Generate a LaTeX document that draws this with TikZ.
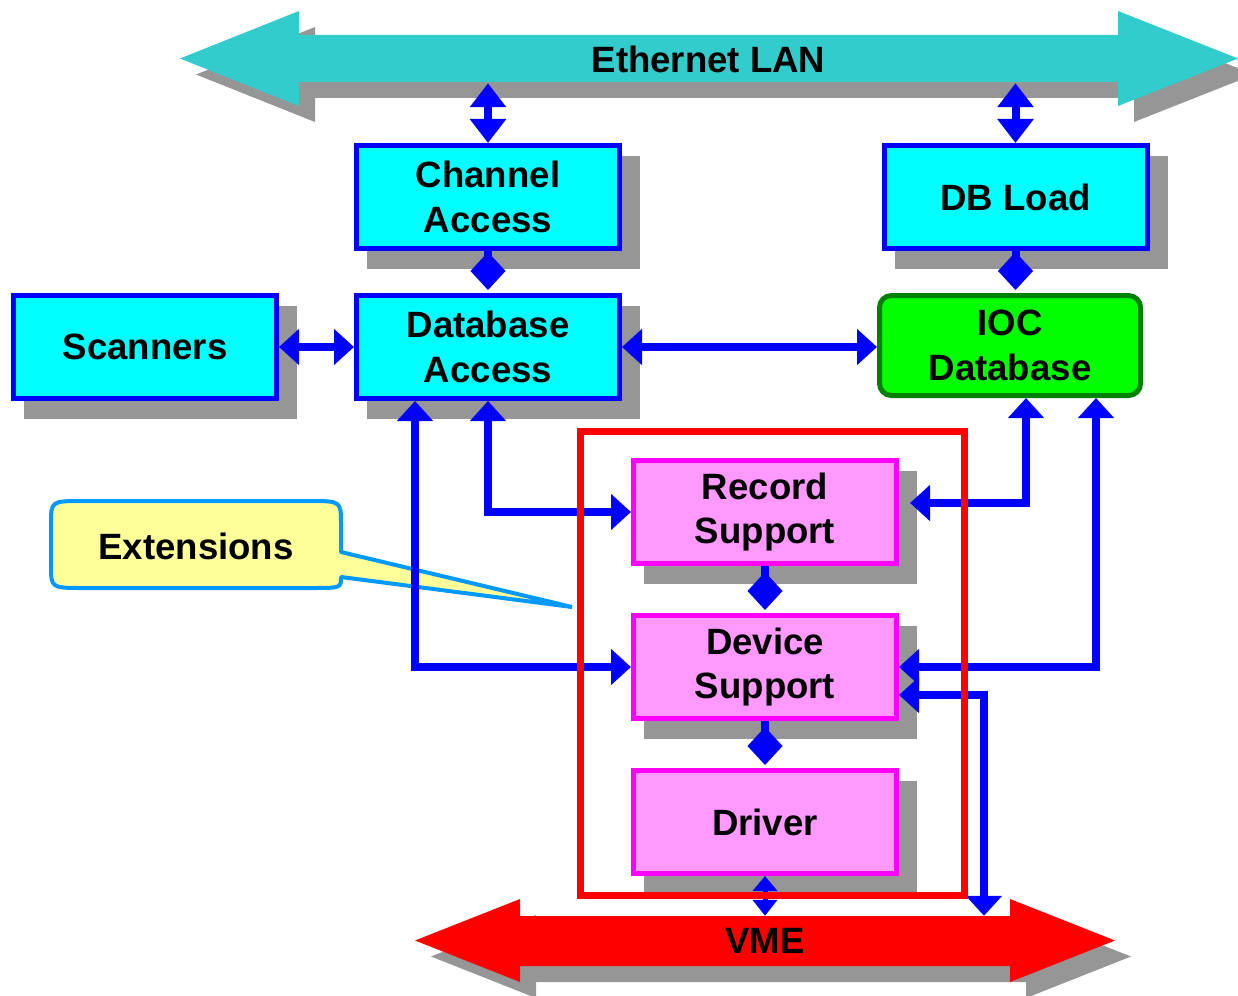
\documentclass[tikz,border=0pt]{standalone}
\usepackage{fontspec}
\setmainfont{Liberation Sans}
\usetikzlibrary{arrows.meta}

\definecolor{lancyan}{HTML}{33CCCC}
\definecolor{boxcyan}{HTML}{00FFFF}
\definecolor{linkblue}{HTML}{0000FF}
\definecolor{iocgreen}{HTML}{00FF00}
\definecolor{iocedge}{HTML}{008000}
\definecolor{pinkfill}{HTML}{FF99FF}
\definecolor{pinkedge}{HTML}{FF00FF}
\definecolor{shadowgray}{HTML}{969696}
\definecolor{notefill}{HTML}{FFFF99}
\definecolor{noteedge}{HTML}{0099FF}
\definecolor{busred}{HTML}{FF0000}

\pgfdeclarelayer{shadowlayer}
\pgfdeclarelayer{toplayer}
\pgfsetlayers{shadowlayer,main,toplayer}

\tikzset{
  every node/.style={font=\bfseries\fontsize{36.6}{44.5}\selectfont, align=center, inner sep=0pt},
  block/.style={rectangle, line width=5pt, minimum width=263pt, minimum height=103pt},
  soft/.style={block, draw=linkblue, fill=boxcyan},
  core/.style={block, draw=pinkedge, fill=pinkfill},
  link/.style={draw=linkblue, line width=8pt},
  twoway/.style={link, {Triangle[length=20pt,width=35pt]}-{Triangle[length=20pt,width=35pt]}},
  lanlink/.style={link, {Triangle[length=24pt,width=35pt]}-{Triangle[length=24pt,width=35pt]}},
  buslink/.style={link, line width=5pt, {Triangle[length=15pt,width=24pt]}-{Triangle[length=16pt,width=24pt]}},
  pairlink/.style={link, shorten >=3pt, -{Diamond[length=38pt,width=35pt]}},
}

\begin{document}
\begin{tikzpicture}[x=1pt,y=-1pt]
\useasboundingbox (0,0) rectangle (1238,995);

% Ethernet LAN bus with its drop shadow
\fill[shadowgray, shift={(16,16)}] (180,58.5) -- (299,11) -- (299,35) -- (1118,35) -- (1118,11)
  -- (1238,58.5) -- (1118,106) -- (1118,82) -- (299,82) -- (299,106) -- cycle;
\fill[lancyan] (180,58.5) -- (299,11) -- (299,35) -- (1118,35) -- (1118,11)
  -- (1238,58.5) -- (1118,106) -- (1118,82) -- (299,82) -- (299,106) -- cycle;
\node[minimum width=819pt, minimum height=47pt] (eth) at (708.5,59.5) {Ethernet LAN};

% VME bus with its drop shadow
\fill[shadowgray, shift={(16,16)}] (415,940.5) -- (520,899) -- (520,916) -- (1010,916) -- (1010,899)
  -- (1115,940.5) -- (1010,982) -- (1010,966) -- (520,966) -- (520,982) -- cycle;
\fill[busred] (415,940.5) -- (520,899) -- (520,916) -- (1010,916) -- (1010,899)
  -- (1115,940.5) -- (1010,982) -- (1010,966) -- (520,966) -- (520,982) -- cycle;
\node[minimum width=490pt, minimum height=50pt] (vme) at (765,941) {VME};

% software blocks
\node[soft] (ca)  at (488,197)    {Channel\\Access};
\node[soft] (dbl) at (1015.5,197) {DB Load};
\node[soft] (sc)  at (145,347)    {Scanners};
\node[soft] (da)  at (488,347)    {Database\\Access};
\node[block, draw=iocedge, fill=iocgreen, rounded corners=12pt,
      minimum width=261pt, minimum height=100pt] (ioc) at (1010,345.5) {IOC\\Database};

% extension blocks
\node[core] (rs) at (765,512) {Record\\Support};
\node[core] (ds) at (765,667) {Device\\Support};
\node[core] (dr) at (765,822) {Driver};

% block shadows
\begin{pgfonlayer}{shadowlayer}
  \foreach \n in {sc,ca,da,dbl,rs,ds,dr}
    \fill[shadowgray] ([shift={(13,13)}]\n.north west) rectangle ([shift={(18,18)}]\n.south east);
\end{pgfonlayer}

% callout
\filldraw[fill=notefill, draw=noteedge, line width=4pt, line join=bevel]
  (51,524) .. controls (51,501) .. (83,501) -- (309,501) .. controls (341,501) .. (341,524)
  -- (341,552) -- (572,607) -- (341,577) .. controls (341,588) .. (311,588)
  -- (83,588) .. controls (51,588) .. (51,565) -- cycle;
\node (ext) at (196,546) {Extensions};

% connectors
\draw[lanlink] (eth.south -| ca.north) -- (ca.north);
\draw[lanlink] (eth.south -| dbl.north) -- (dbl.north);
\draw[pairlink] (ca.south) -- (da.north);
\draw[pairlink] (dbl.south) -- (dbl.south |- ioc.north);
\draw[twoway] (sc.east) -- (da.west);
\draw[twoway] (da.east) -- (da.east -| ioc.west);
\draw[twoway] (da.south) |- (rs.west);
\draw[twoway] ([xshift=-73pt]da.south) |- (ds.west);
\draw[twoway] ([xshift=16pt]ioc.south) |- ([xshift=11pt,yshift=9pt]rs.east);
\draw[twoway] ([xshift=86pt]ioc.south) |- (ds.east);
\draw[twoway] ([yshift=-28pt]ds.east) -| ([xshift=219pt]vme.north);
\draw[pairlink] (rs.south) -- (ds.north);
\draw[pairlink] (ds.south) -- (dr.north);
\draw[buslink] (dr.south) -- (vme.north);

% frame around the extension blocks
\begin{pgfonlayer}{toplayer}
  \node[draw=busred, line width=7pt, minimum width=383.5pt, minimum height=464.5pt] (frame) at (772.25,663.25) {};
\end{pgfonlayer}
\end{tikzpicture}
\end{document}
